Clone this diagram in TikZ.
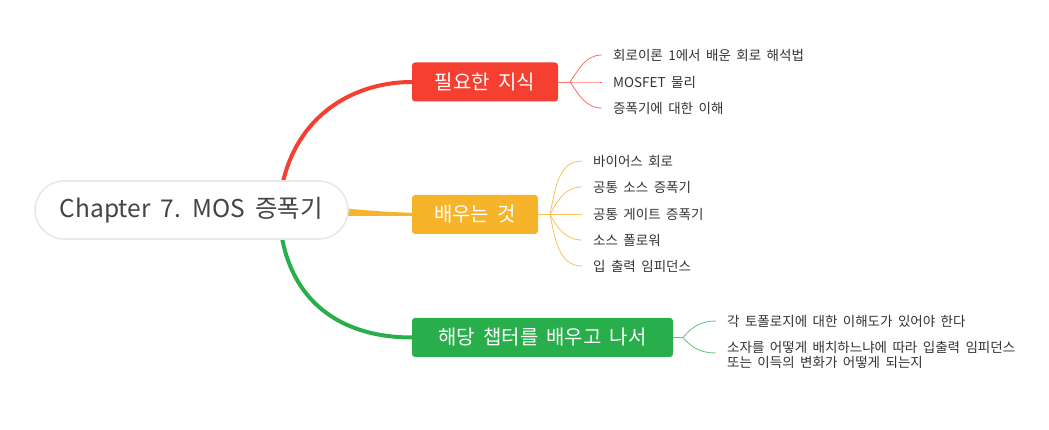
\documentclass[tikz,border=0pt]{standalone}
\usepackage{fontspec}
\setmainfont{Noto Sans CJK KR}[WordSpace=1.8]
\usetikzlibrary{calc,backgrounds}

\definecolor{rootgray}{HTML}{444444}
\definecolor{leafgray}{HTML}{333333}
\definecolor{knowred}{HTML}{F53F30}
\definecolor{learnyel}{HTML}{F6B42A}
\definecolor{aftergrn}{HTML}{28AE4B}

\tikzset{
  rootbox/.style={rectangle, rounded corners=29pt, fill=white, draw=black!9, line width=1.6pt,
    minimum width=313pt, minimum height=58pt, text=rootgray, font=\fontsize{24.5}{29}\selectfont},
  topicbox/.style={rectangle, rounded corners=3pt, minimum height=39pt, text=white,
    font=\fontsize{20}{24}\selectfont, inner sep=0pt},
  leaf/.style={anchor=west, inner xsep=11pt, inner ysep=1pt, text=leafgray, align=left,
    font=\fontsize{13.5}{14.5}\selectfont},
  twig/.style={line width=0.8pt}
}

\begin{document}
\begin{tikzpicture}[x=1pt,y=1pt]
	\useasboundingbox (0,0) rectangle (1049,430);

	\node[rootbox] (root) at (191.5,220) {Chapter 7. MOS 증폭기};

	\node[topicbox, fill=knowred, minimum width=146pt] (know) at (485,348) {필요한 지식};
	\node[topicbox, fill=learnyel, minimum width=126pt] (learn) at (475,215.5) {배우는 것};
	\node[topicbox, fill=aftergrn, minimum width=261pt] (after) at (542.5,92.5) {해당 챕터를 배우고 나서};

	% leaves
	\node[leaf] (k1) at (602,375) {회로이론 1에서 배운 회로 해석법};
	\node[leaf] (k2) at (602,348) {MOSFET 물리};
	\node[leaf] (k3) at (602,322) {증폭기에 대한 이해};

	\node[leaf] (l1) at (582,269) {바이어스 회로};
	\node[leaf] (l2) at (582,243) {공통 소스 증폭기};
	\node[leaf] (l3) at (582,215.5) {공통 게이트 증폭기};
	\node[leaf] (l4) at (582,190) {소스 폴로워};
	\node[leaf] (l5) at (582,164) {입 출력 임피던스};

	\node[leaf] (a1) at (716,109) {각 토폴로지에 대한 이해도가 있어야 한다};
	\node[leaf] (a2) at (716,75) {소자를 어떻게 배치하느냐에 따라 입출력 임피던스\\또는 이득의 변화가 어떻게 되는지};

	\coordinate (kj) at (570,348);
	\coordinate (lj) at (550,215.5);
	\coordinate (aj) at (683,92.5);

	\begin{scope}[on background layer]
		\draw[knowred, line width=4pt] ($(root.east)+(-70,0)$) .. controls (285,310) and (350,348) .. (know.west);
		\draw[aftergrn, line width=4pt] ($(root.east)+(-70,0)$) .. controls (283,125) and (345,92.5) .. (after.west);
		\fill[learnyel] ($(root.east)+(-12,2.5)$) .. controls (370,219) and (395,217.5) .. ($(learn.west)+(1,1.8)$)
			-- ($(learn.west)+(1,-1.5)$) -- ($(root.east)+(-12,-6)$) -- cycle;
	\end{scope}

	\draw[twig, knowred!75] (know.east) -- (kj);
	\foreach \c/\a in {k1/55, k2/0, k3/-55}
		\draw[twig, knowred!75] (kj) to[out=\a, in=180] (\c.west);

	\draw[twig, learnyel!80] (learn.east) -- (lj);
	\foreach \c/\a in {l1/78, l2/62, l3/0, l4/-62, l5/-78}
		\draw[twig, learnyel!80] (lj) to[out=\a, in=180] (\c.west);

	\draw[twig, aftergrn!75] (after.east) -- (aj);
	\draw[twig, aftergrn!75] (aj) to[out=50, in=180] (a1.west);
	\draw[twig, aftergrn!75] (aj) to[out=-50, in=180] ($(a2.west)+(0,2)$);
\end{tikzpicture}
\end{document}
